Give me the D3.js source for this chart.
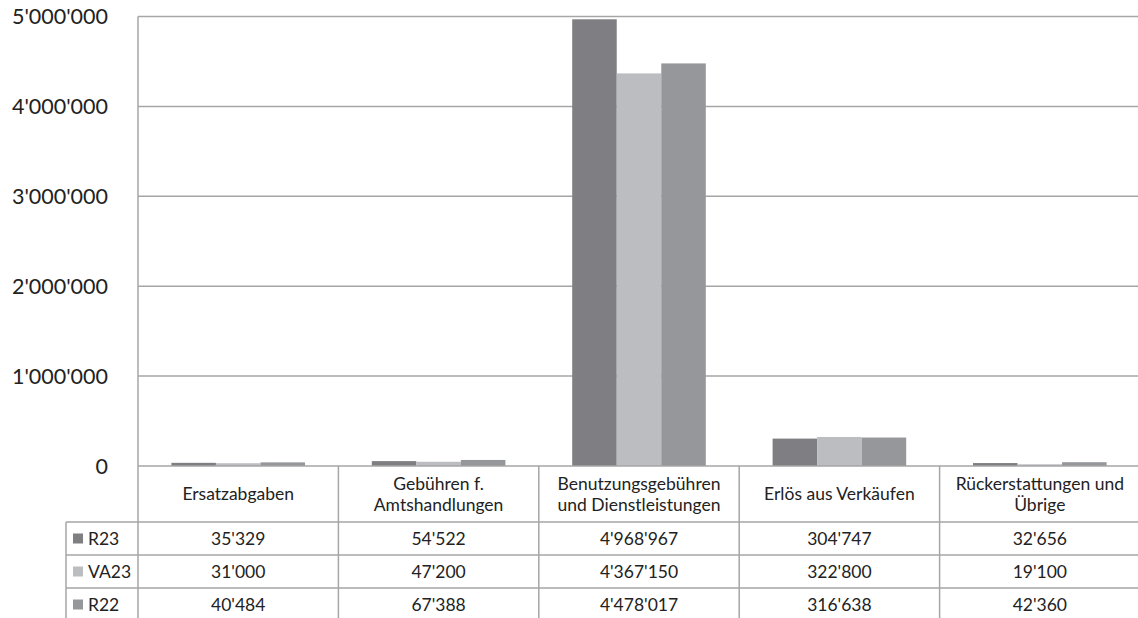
<!DOCTYPE html>
<html><head><meta charset="utf-8">
<script src="https://cdn.jsdelivr.net/npm/d3@7"></script>
<style>
html,body{margin:0;padding:0;background:#fff;}
svg{display:block;font-family:Lato,"Open Sans",sans-serif;}
</style></head>
<body>
<svg id="c" width="1138" height="618"></svg>
<script>
const categories = [
  ["Ersatzabgaben"],
  ["Gebühren f.", "Amtshandlungen"],
  ["Benutzungsgebühren", "und Dienstleistungen"],
  ["Erlös aus Verkäufen"],
  ["Rückerstattungen und", "Übrige"]
];
const seriesNames = ["R23", "VA23", "R22"];
const R23  = [35329, 54522, 4968967, 304747, 32656];
const VA23 = [31000, 47200, 4367150, 322800, 19100];
const R22  = [40484, 67388, 4478017, 316638, 42360];
const yTicks = [0, 1000000, 2000000, 3000000, 4000000, 5000000];
const colors = ["#7f7f83", "#bcbdc1", "#96979b"];

(function(){
const series = [R23, VA23, R22];
const svg = d3.select("#c");
const left = 138, right = 1140, plotTop = 16.5, base = 466;
const rowH = [56, 33, 33, 33];
const grid = "#a6a6a6";
const fs = 17.5;
const fmt = v => d3.format(",")(v).replace(/,/g, "'");

const x = d3.scaleBand().domain(d3.range(categories.length)).range([left, right]).padding(0);
const xi = d3.scaleBand().domain(d3.range(series.length)).range([0, x.bandwidth()]).paddingInner(0).paddingOuter(0.75);
const y = d3.scaleLinear().domain([0, 5000000]).range([base, plotTop]);

svg.append("g").selectAll("line").data(yTicks.filter(t => t > 0)).join("line")
  .attr("x1", left).attr("x2", right).attr("y1", d => y(d)).attr("y2", d => y(d))
  .attr("stroke", grid).attr("stroke-width", 1.5);

svg.append("g").selectAll("text").data(yTicks).join("text")
  .attr("x", 108).attr("y", d => y(d)).attr("dy", "0.36em")
  .attr("text-anchor", "end").attr("font-size", 21.5).attr("fill", "#222")
  .text(d => fmt(d));

series.forEach((s, si) => {
  svg.append("g").selectAll("rect").data(s).join("rect")
    .attr("x", (d, i) => x(i) + xi(si)).attr("width", xi.bandwidth())
    .attr("y", d => y(d)).attr("height", d => base - y(d))
    .attr("fill", colors[si]);
});

const rowY = [base];
rowH.forEach((h, i) => rowY.push(rowY[i] + h));
const tg = svg.append("g");
tg.append("line").attr("x1", left).attr("x2", right).attr("y1", base).attr("y2", base).attr("stroke", grid).attr("stroke-width", 1.5);
[1, 2, 3].forEach(i => tg.append("line").attr("x1", 66).attr("x2", right).attr("y1", rowY[i]).attr("y2", rowY[i]).attr("stroke", grid).attr("stroke-width", 1.5));
tg.append("line").attr("x1", left).attr("x2", left).attr("y1", plotTop).attr("y2", 618).attr("stroke", grid).attr("stroke-width", 1.5);
tg.append("line").attr("x1", 66).attr("x2", 66).attr("y1", rowY[1]).attr("y2", 618).attr("stroke", grid).attr("stroke-width", 1.5);
d3.range(1, categories.length).forEach(i => tg.append("line").attr("x1", x(i)).attr("x2", x(i)).attr("y1", base).attr("y2", 618).attr("stroke", grid).attr("stroke-width", 1.5));

categories.forEach((lines, i) => {
  const cx = x(i) + x.bandwidth() / 2;
  const cy = base + rowH[0] / 2;
  const lh = 21;
  lines.forEach((t, li) => {
    tg.append("text").attr("x", cx).attr("y", cy + (li - (lines.length - 1) / 2) * lh)
      .attr("dy", "0.35em").attr("text-anchor", "middle").attr("font-size", fs).attr("fill", "#222").text(t);
  });
});
series.forEach((s, si) => {
  const cy = rowY[si + 1] + rowH[si + 1] / 2;
  tg.append("rect").attr("x", 73).attr("y", cy - 5).attr("width", 10).attr("height", 10).attr("fill", colors[si]);
  tg.append("text").attr("x", 88).attr("y", cy).attr("dy", "0.35em").attr("font-size", fs).attr("fill", "#222").text(seriesNames[si]);
  s.forEach((v, i) => {
    tg.append("text").attr("x", x(i) + x.bandwidth() / 2).attr("y", cy).attr("dy", "0.35em")
      .attr("text-anchor", "middle").attr("font-size", fs).attr("fill", "#222").text(fmt(v));
  });
});
})();
</script>
</body></html>
